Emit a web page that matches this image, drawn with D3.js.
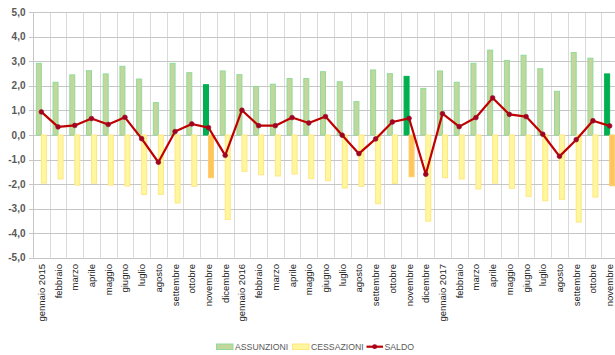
<!DOCTYPE html>
<html><head><meta charset="utf-8">
<script src="https://cdn.jsdelivr.net/npm/d3@7"></script>
<style>
html,body{margin:0;padding:0;background:#fff;}
svg{display:block;font-family:"Liberation Sans",Arial,sans-serif;}
</style></head><body>
<svg id="c" width="615" height="355"></svg>
<script>
const categories = ["gennaio 2015","febbraio","marzo","aprile","maggio","giugno","luglio","agosto","settembre","ottobre","novembre","dicembre",
  "gennaio 2016","febbraio","marzo","aprile","maggio","giugno","luglio","agosto","settembre","ottobre","novembre","dicembre",
  "gennaio 2017","febbraio","marzo","aprile","maggio","giugno","luglio","agosto","settembre","ottobre","novembre"];
const assunzioni = [2.92,2.15,2.45,2.62,2.49,2.80,2.28,1.32,2.92,2.54,2.05,2.61,
  2.46,1.98,2.07,2.30,2.30,2.58,2.17,1.36,2.65,2.50,2.39,1.90,
  2.61,2.15,2.92,3.46,3.04,3.25,2.70,1.78,3.36,3.13,2.49];
const cessazioni = [-1.96,-1.79,-2.04,-1.96,-2.04,-2.08,-2.42,-2.42,-2.77,-2.09,-1.74,-3.44,
  -1.48,-1.62,-1.67,-1.59,-1.78,-1.86,-2.16,-2.09,-2.80,-1.97,-1.70,-3.51,
  -1.74,-1.79,-2.20,-1.96,-2.17,-2.50,-2.68,-2.62,-3.55,-2.53,-2.07];
const saldo = [0.94,0.33,0.39,0.67,0.43,0.72,-0.15,-1.11,0.14,0.45,0.30,-0.83,
  1.01,0.38,0.38,0.71,0.49,0.75,-0.01,-0.76,-0.16,0.53,0.68,-1.60,
  0.87,0.34,0.71,1.51,0.84,0.75,0.03,-0.87,-0.19,0.58,0.37];
const yTicks = [-5,-4,-3,-2,-1,0,1,2,3,4,5];
const seriesNames = ["ASSUNZIONI","CESSAZIONI","SALDO"];

const svg = d3.select("#c");
const pL = 33, pR = 618, pT = 12.3, pB = 257.7;
const idx = d3.range(categories.length);
const x = d3.scaleBand().domain(idx).range([pL, pR]).padding(0);
const y = d3.scaleLinear().domain([-5,5]).range([pB, pT]);
const bw = x.bandwidth();
const barW = 5;
const fmt = v => d3.format(".1f")(v).replace(".", ",").replace("−","-");
const isHi = i => categories[i] === "novembre";

// vertical gridlines
svg.append("g").selectAll("line").data(idx.slice(1).concat([categories.length]))
  .join("line")
  .attr("x1", i => Math.round(pL + i*bw) + 0.5).attr("x2", i => Math.round(pL + i*bw) + 0.5)
  .attr("y1", pT).attr("y2", pB)
  .attr("stroke", "#dadada").attr("stroke-width", 1);

// horizontal gridlines
svg.append("g").selectAll("line").data(yTicks).join("line")
  .attr("x1", pL - 4).attr("x2", pR)
  .attr("y1", d => Math.round(y(d)) + 0.5).attr("y2", d => Math.round(y(d)) + 0.5)
  .attr("stroke", "#c6c6c6").attr("stroke-width", 1);

// y axis line
svg.append("line").attr("x1", pL + 0.5).attr("x2", pL + 0.5).attr("y1", pT).attr("y2", pB)
  .attr("stroke", "#c6c6c6");

// y labels
svg.append("g").selectAll("text").data(yTicks).join("text")
  .attr("x", 25.5).attr("y", d => y(d)).attr("dy", "0.35em")
  .attr("text-anchor", "end").attr("font-size", 10).attr("font-weight", "bold")
  .attr("fill", "#595959").text(fmt);

const cx = i => x(i) + bw/2;

// assunzioni bars
svg.append("g").selectAll("rect").data(idx).join("rect")
  .attr("x", i => cx(i) - barW).attr("width", barW)
  .attr("y", i => y(assunzioni[i])).attr("height", i => y(0) - y(assunzioni[i]))
  .attr("fill", i => isHi(i) ? "#00b050" : "#c3d69b")
  .attr("stroke", i => isHi(i) ? "#00b050" : "#8fdc9a").attr("stroke-width", 1);

// cessazioni bars
svg.append("g").selectAll("rect").data(idx).join("rect")
  .attr("x", i => cx(i)).attr("width", barW)
  .attr("y", y(0)).attr("height", i => y(cessazioni[i]) - y(0))
  .attr("fill", i => isHi(i) ? "#ffc65c" : "#fff79e")
  .attr("stroke", i => isHi(i) ? "#ffcd6e" : "#ffe680").attr("stroke-width", 1);

// saldo line
const line = d3.line().x(i => cx(i)).y(i => y(saldo[i]));
svg.append("path").datum(idx).attr("d", line)
  .attr("fill", "none").attr("stroke", "#c00000").attr("stroke-width", 2.2).attr("stroke-linejoin", "round");
svg.append("g").selectAll("circle").data(idx).join("circle")
  .attr("cx", cx).attr("cy", i => y(saldo[i])).attr("r", 2.4)
  .attr("fill", "#a50021").attr("stroke", "#8b1a2b").attr("stroke-width", 0.6);

// x labels
svg.append("g").selectAll("text").data(idx).join("text")
  .attr("transform", i => `translate(${cx(i)+3.5},264) rotate(-90)`)
  .attr("text-anchor", "end").attr("font-size", 9.5).attr("fill", "#222")
  .text(i => categories[i]);

// legend
const lg = svg.append("g").attr("font-size", 8.7).attr("fill", "#595959");
lg.append("rect").attr("x", 216.5).attr("y", 344).attr("width", 16.5).attr("height", 5.5)
  .attr("fill", "#c3d69b").attr("stroke", "#8fdc9a");
lg.append("text").attr("x", 235).attr("y", 350.3).text(seriesNames[0]);
lg.append("rect").attr("x", 292.5).attr("y", 344).attr("width", 16.5).attr("height", 5.5)
  .attr("fill", "#fff79e").attr("stroke", "#ffe680");
lg.append("text").attr("x", 311).attr("y", 350.3).text(seriesNames[1]);
lg.append("line").attr("x1", 366.5).attr("x2", 383).attr("y1", 346.7).attr("y2", 346.7)
  .attr("stroke", "#c00000").attr("stroke-width", 2.2);
lg.append("circle").attr("cx", 374.7).attr("cy", 346.7).attr("r", 2.4).attr("fill", "#a50021");
lg.append("text").attr("x", 384.5).attr("y", 350.3).text(seriesNames[2]);
</script>
</body></html>
